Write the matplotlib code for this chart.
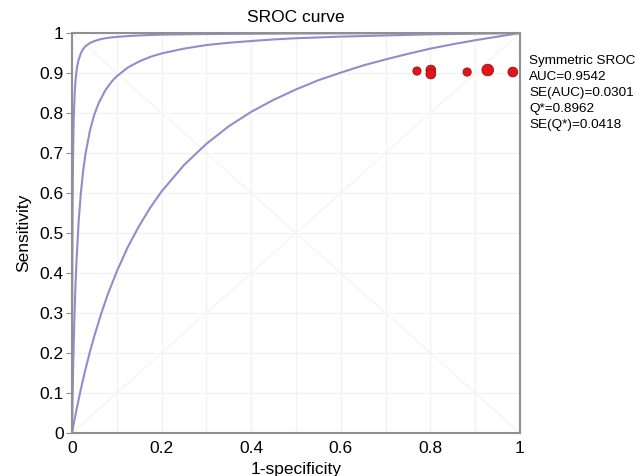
import matplotlib.pyplot as plt
import numpy as np

plt.rcParams['font.family'] = ['Liberation Sans', 'DejaVu Sans']

# SROC curves (upper bound, fitted curve, lower bound)
fpr_upper = [0, 0.0003, 0.0005, 0.001, 0.0015, 0.002, 0.003, 0.004, 0.006, 0.008, 0.01, 0.012, 0.015, 0.02,
             0.025, 0.03, 0.04, 0.05, 0.065, 0.08, 0.1, 0.12, 0.15, 0.2, 0.3, 0.5, 0.7, 1.0]
sens_upper = [0, 0.219, 0.319, 0.483, 0.584, 0.652, 0.738, 0.790, 0.849, 0.883, 0.904, 0.919, 0.934, 0.950,
              0.960, 0.967, 0.975, 0.980, 0.985, 0.988, 0.9905, 0.992, 0.994, 0.996, 0.9975, 0.9989, 0.9995, 1.0]

fpr_mid = [0, 0.001, 0.002, 0.003, 0.005, 0.0075, 0.01, 0.015, 0.02, 0.025, 0.03, 0.04, 0.05, 0.06, 0.075,
           0.09, 0.1, 0.125, 0.15, 0.175, 0.2, 0.25, 0.3, 0.35, 0.4, 0.45, 0.5, 0.6, 0.7, 0.8, 0.9, 1.0]
sens_mid = [0, 0.069, 0.130, 0.183, 0.272, 0.360, 0.429, 0.532, 0.603, 0.656, 0.697, 0.756, 0.797, 0.826, 0.858,
            0.8805, 0.892, 0.914, 0.929, 0.9405, 0.949, 0.961, 0.970, 0.9757, 0.980, 0.984, 0.987, 0.991,
            0.994, 0.9967, 0.9985, 1.0]

fpr_low = [0, 0.005, 0.01, 0.02, 0.03, 0.04, 0.05, 0.065, 0.08, 0.1, 0.125, 0.15, 0.175, 0.2, 0.25, 0.3, 0.35,
           0.4, 0.45, 0.5, 0.55, 0.6, 0.65, 0.7, 0.75, 0.8, 0.85, 0.9, 0.95, 1.0]
sens_low = [0, 0.030, 0.058, 0.111, 0.159, 0.203, 0.243, 0.298, 0.347, 0.404, 0.466, 0.518, 0.564, 0.604, 0.670,
            0.723, 0.767, 0.803, 0.833, 0.859, 0.882, 0.901, 0.919, 0.934, 0.948, 0.961, 0.972, 0.982, 0.991, 1.0]

# individual studies
study_fpr = [0.770, 0.801, 0.801, 0.882, 0.928, 0.984]
study_sens = [0.905, 0.9075, 0.8975, 0.9025, 0.9075, 0.9025]
study_weight = [1.0, 1.4, 1.4, 1.0, 2.0, 1.4]

stats_text = "Symmetric SROC\nAUC=0.9542\nSE(AUC)=0.0301\nQ*=0.8962\nSE(Q*)=0.0418"

fig = plt.figure(figsize=(6.36, 4.76), dpi=100)
ax = fig.add_axes([0.1132, 0.0903, 0.7044, 0.8403])

# faint background grid and diagonals
ticks = np.arange(0, 1.01, 0.1)
for t in ticks:
    ax.axvline(t, color='#f2f2f2', lw=1.0, zorder=0)
    ax.axhline(t, color='#f2f2f2', lw=1.0, zorder=0)
ax.plot([0, 1], [0, 1], color='#f5f5f5', lw=1.0, zorder=0)
ax.plot([0, 1], [1, 0], color='#f5f5f5', lw=1.0, zorder=0)

curve_col = '#8e8ecc'
ax.plot(fpr_upper, sens_upper, color=curve_col, lw=1.5, zorder=2)
ax.plot(fpr_mid, sens_mid, color=curve_col, lw=1.5, zorder=2)
ax.plot(fpr_low, sens_low, color=curve_col, lw=1.5, zorder=2)

ax.scatter(study_fpr, study_sens, s=[35 * w for w in study_weight],
           color='#e3151b', edgecolor='#9a1010', linewidth=0.6, zorder=3, clip_on=False)

ax.set_xlim(0, 1)
ax.set_ylim(0, 1)
ax.set_xticks([0, 0.2, 0.4, 0.6, 0.8, 1])
ax.set_xticklabels(['0', '0.2', '0.4', '0.6', '0.8', '1'])
ax.set_yticks(ticks)
ax.set_yticklabels(['0', '0.1', '0.2', '0.3', '0.4', '0.5', '0.6', '0.7', '0.8', '0.9', '1'])
ax.tick_params(axis='y', length=4, color='#888888', labelsize=12.5, pad=2)
ax.tick_params(axis='x', length=0, labelsize=12.5, pad=6)
for sp in ax.spines.values():
    sp.set_color('#909090')
    sp.set_linewidth(1.5)

ax.set_title("SROC curve", fontsize=12.5, pad=8)
ax.set_xlabel("1-specificity", fontsize=12.5, labelpad=4)
ax.set_ylabel("Sensitivity", fontsize=12.5, labelpad=6)

fig.text(0.832, 0.885, stats_text, fontsize=9.7, va='top', ha='left', linespacing=1.45)

fig.savefig('out.png', dpi=100)
